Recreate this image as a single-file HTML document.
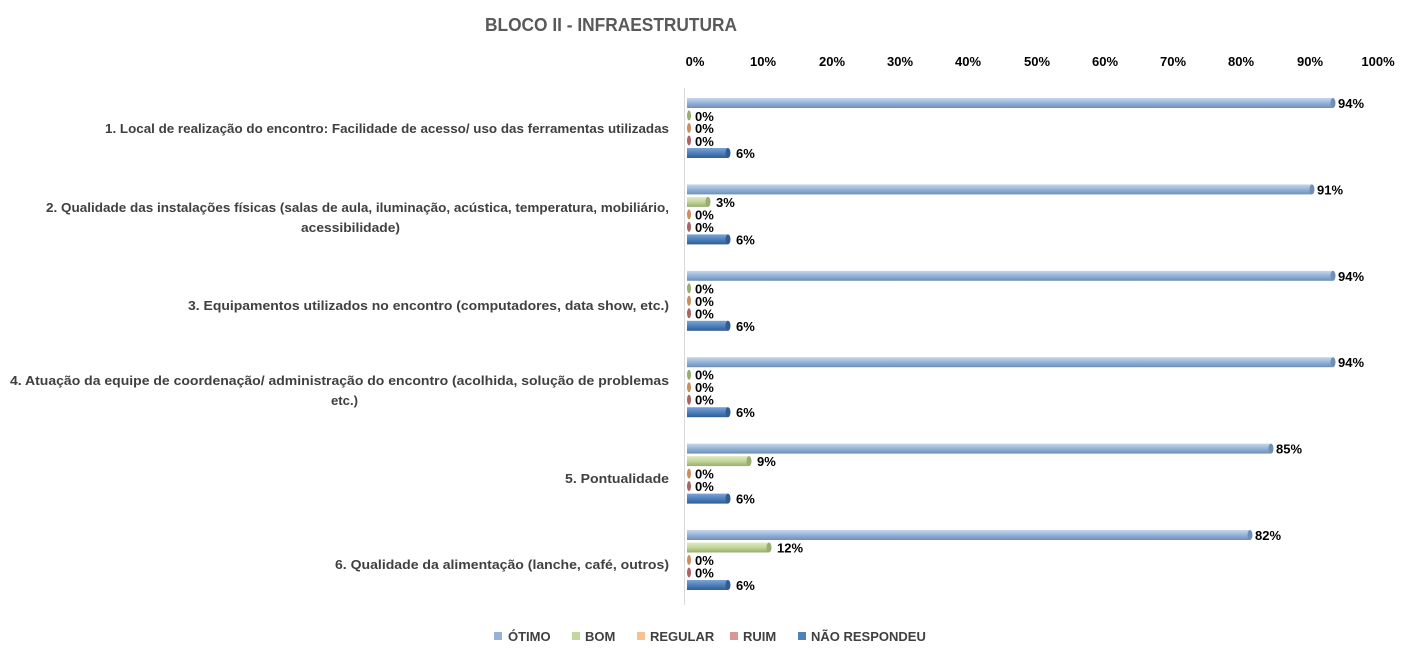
<!DOCTYPE html>
<html><head><meta charset="utf-8"><style>
html,body{margin:0;padding:0;background:#fff;}
svg{display:block;font-family:"Liberation Sans",sans-serif;font-weight:bold;}
</style></head><body>
<svg width="1416" height="659" viewBox="0 0 1416 659" xmlns="http://www.w3.org/2000/svg">
<defs>
<linearGradient id="gO" x1="0" y1="0" x2="0" y2="1"><stop offset="0" stop-color="#c6d7ec"/><stop offset="0.5" stop-color="#95b3d7"/><stop offset="1" stop-color="#6f8fb8"/></linearGradient>
<linearGradient id="gB" x1="0" y1="0" x2="0" y2="1"><stop offset="0" stop-color="#e0ebc7"/><stop offset="0.5" stop-color="#c3d69b"/><stop offset="1" stop-color="#98ad6e"/></linearGradient>
<linearGradient id="gN" x1="0" y1="0" x2="0" y2="1"><stop offset="0" stop-color="#7ea3d4"/><stop offset="0.5" stop-color="#4f81bd"/><stop offset="1" stop-color="#2f5d93"/></linearGradient>
</defs>
<rect width="1416" height="659" fill="#fff"/>
<text x="485" y="31" font-size="18" fill="#595959" textLength="252" lengthAdjust="spacingAndGlyphs">BLOCO II - INFRAESTRUTURA</text>
<g font-size="13" fill="#000" text-anchor="middle">
<text x="695" y="66">0%</text><text x="763" y="66">10%</text><text x="832" y="66">20%</text><text x="900" y="66">30%</text><text x="968" y="66">40%</text><text x="1037" y="66">50%</text><text x="1105" y="66">60%</text><text x="1173" y="66">70%</text><text x="1241" y="66">80%</text><text x="1310" y="66">90%</text><text x="1378" y="66">100%</text>
</g>
<line x1="684.5" y1="88" x2="684.5" y2="605" stroke="#d9d9d9" stroke-width="1"/>

<g font-size="13" fill="#404040" text-anchor="end">
<text x="669" y="133" textLength="564" lengthAdjust="spacingAndGlyphs">1. Local de realização do encontro: Facilidade de acesso/ uso das ferramentas utilizadas</text>
<text x="669" y="212" textLength="623" lengthAdjust="spacingAndGlyphs">2. Qualidade das instalações físicas (salas de aula, iluminação, acústica, temperatura, mobiliário,</text>
<text x="400" y="232" textLength="99" lengthAdjust="spacingAndGlyphs">acessibilidade)</text>
<text x="669" y="310" textLength="481" lengthAdjust="spacingAndGlyphs">3. Equipamentos utilizados no encontro (computadores, data show, etc.)</text>
<text x="669" y="385" textLength="659" lengthAdjust="spacingAndGlyphs">4. Atuação da equipe de coordenação/ administração do encontro (acolhida, solução de problemas</text>
<text x="358" y="405" textLength="27" lengthAdjust="spacingAndGlyphs">etc.)</text>
<text x="669" y="483" textLength="104" lengthAdjust="spacingAndGlyphs">5. Pontualidade</text>
<text x="669" y="569" textLength="334" lengthAdjust="spacingAndGlyphs">6. Qualidade da alimentação (lanche, café, outros)</text>
</g>

<g font-size="13" fill="#000">
<rect x="687" y="98" width="646" height="10" fill="url(#gO)"/><ellipse cx="1333" cy="103" rx="2.5" ry="5" fill="#6f8fb8"/><text x="1338" y="108">94%</text>
<ellipse cx="689" cy="115.5" rx="2" ry="5" fill="#98ad6e"/><text x="695" y="121">0%</text>
<ellipse cx="689" cy="128" rx="2" ry="5" fill="#c98f5c"/><text x="695" y="133">0%</text>
<ellipse cx="689" cy="140.5" rx="2" ry="5" fill="#a86563"/><text x="695" y="146">0%</text>
<rect x="687" y="148" width="41" height="10" fill="url(#gN)"/><ellipse cx="728" cy="153" rx="2.5" ry="5" fill="#2f5d93"/><text x="736" y="158">6%</text>

<rect x="687" y="184.4" width="625" height="10" fill="url(#gO)"/><ellipse cx="1312" cy="189.4" rx="2.5" ry="5" fill="#6f8fb8"/><text x="1317" y="194.4">91%</text>
<rect x="687" y="196.9" width="21" height="10" fill="url(#gB)"/><ellipse cx="708" cy="201.9" rx="2.5" ry="5" fill="#98ad6e"/><text x="716" y="207">3%</text>
<ellipse cx="689" cy="214.4" rx="2" ry="5" fill="#c98f5c"/><text x="695" y="219.4">0%</text>
<ellipse cx="689" cy="226.9" rx="2" ry="5" fill="#a86563"/><text x="695" y="232">0%</text>
<rect x="687" y="234.4" width="41" height="10" fill="url(#gN)"/><ellipse cx="728" cy="239.4" rx="2.5" ry="5" fill="#2f5d93"/><text x="736" y="244.4">6%</text>

<rect x="687" y="270.8" width="646" height="10" fill="url(#gO)"/><ellipse cx="1333" cy="275.8" rx="2.5" ry="5" fill="#6f8fb8"/><text x="1338" y="280.8">94%</text>
<ellipse cx="689" cy="288.3" rx="2" ry="5" fill="#98ad6e"/><text x="695" y="293.3">0%</text>
<ellipse cx="689" cy="300.8" rx="2" ry="5" fill="#c98f5c"/><text x="695" y="305.8">0%</text>
<ellipse cx="689" cy="313.3" rx="2" ry="5" fill="#a86563"/><text x="695" y="318.3">0%</text>
<rect x="687" y="320.8" width="41" height="10" fill="url(#gN)"/><ellipse cx="728" cy="325.8" rx="2.5" ry="5" fill="#2f5d93"/><text x="736" y="330.8">6%</text>

<rect x="687" y="357.2" width="646" height="10" fill="url(#gO)"/><ellipse cx="1333" cy="362.2" rx="2.5" ry="5" fill="#6f8fb8"/><text x="1338" y="367.2">94%</text>
<ellipse cx="689" cy="374.7" rx="2" ry="5" fill="#98ad6e"/><text x="695" y="379.7">0%</text>
<ellipse cx="689" cy="387.2" rx="2" ry="5" fill="#c98f5c"/><text x="695" y="392.2">0%</text>
<ellipse cx="689" cy="399.7" rx="2" ry="5" fill="#a86563"/><text x="695" y="404.7">0%</text>
<rect x="687" y="407.2" width="41" height="10" fill="url(#gN)"/><ellipse cx="728" cy="412.2" rx="2.5" ry="5" fill="#2f5d93"/><text x="736" y="417.2">6%</text>

<rect x="687" y="443.6" width="584" height="10" fill="url(#gO)"/><ellipse cx="1271" cy="448.6" rx="2.5" ry="5" fill="#6f8fb8"/><text x="1276" y="453.6">85%</text>
<rect x="687" y="456.1" width="62" height="10" fill="url(#gB)"/><ellipse cx="749" cy="461.1" rx="2.5" ry="5" fill="#98ad6e"/><text x="757" y="466.1">9%</text>
<ellipse cx="689" cy="473.6" rx="2" ry="5" fill="#c98f5c"/><text x="695" y="478.6">0%</text>
<ellipse cx="689" cy="486.1" rx="2" ry="5" fill="#a86563"/><text x="695" y="491.1">0%</text>
<rect x="687" y="493.6" width="41" height="10" fill="url(#gN)"/><ellipse cx="728" cy="498.6" rx="2.5" ry="5" fill="#2f5d93"/><text x="736" y="503.6">6%</text>

<rect x="687" y="530" width="563" height="10" fill="url(#gO)"/><ellipse cx="1250" cy="535" rx="2.5" ry="5" fill="#6f8fb8"/><text x="1255" y="540">82%</text>
<rect x="687" y="542.5" width="82" height="10" fill="url(#gB)"/><ellipse cx="769" cy="547.5" rx="2.5" ry="5" fill="#98ad6e"/><text x="777" y="552.5">12%</text>
<ellipse cx="689" cy="560" rx="2" ry="5" fill="#c98f5c"/><text x="695" y="565">0%</text>
<ellipse cx="689" cy="572.5" rx="2" ry="5" fill="#a86563"/><text x="695" y="577.5">0%</text>
<rect x="687" y="580" width="41" height="10" fill="url(#gN)"/><ellipse cx="728" cy="585" rx="2.5" ry="5" fill="#2f5d93"/><text x="736" y="590">6%</text>
</g>

<g font-size="13" fill="#404040">
<rect x="494" y="632" width="8" height="8" fill="#95b3d7"/><text x="508" y="641">ÓTIMO</text>
<rect x="572" y="632" width="8" height="8" fill="#c3d69b"/><text x="585" y="641">BOM</text>
<rect x="637" y="632" width="8" height="8" fill="#fac090"/><text x="650" y="641">REGULAR</text>
<rect x="730" y="632" width="8" height="8" fill="#d99694"/><text x="743" y="641">RUIM</text>
<rect x="798" y="632" width="8" height="8" fill="#4f81bd"/><text x="811" y="641">NÃO RESPONDEU</text>
</g>
</svg>
</body></html>
